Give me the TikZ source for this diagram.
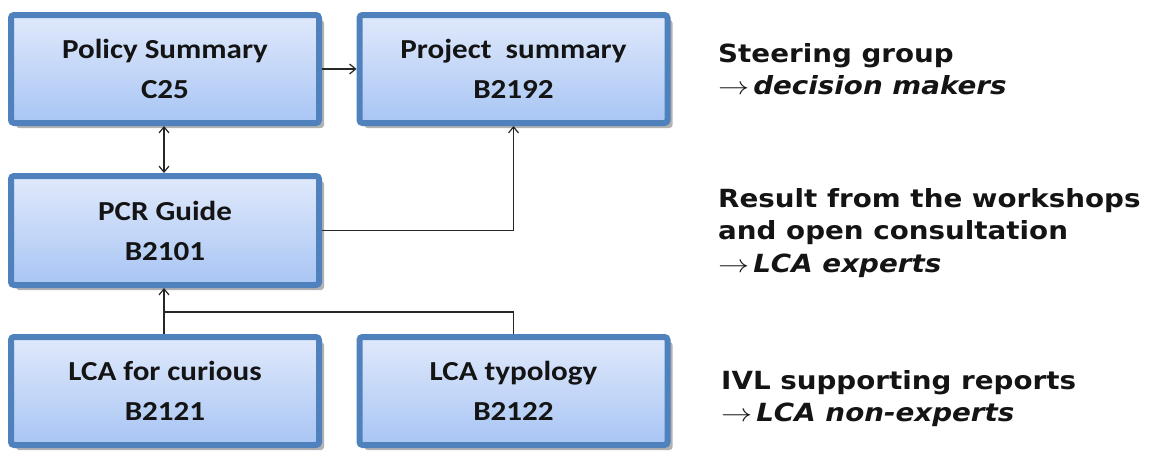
\documentclass[tikz,border=0pt]{standalone}
\usepackage{fontspec}
\usetikzlibrary{arrows.meta,shadows}
\newfontfamily\boxfont{Carlito}[FakeStretch=1.13]
\newfontfamily\notefont{DejaVu Sans}[FakeStretch=1.11]
\definecolor{boxborder}{RGB}{79,129,189}
\definecolor{boxtop}{RGB}{224,233,251}
\definecolor{boxbottom}{RGB}{168,197,244}
\definecolor{txt}{RGB}{20,20,20}
\newcommand{\toarrow}{\scalebox{1.25}[1]{$\rightarrow$}\hspace{4pt}}
\tikzset{
  barb/.tip={Straight Barb[length=6pt,width=10pt,line width=1.2pt]},
  docbox/.style={rectangle, rounded corners=3pt, draw=boxborder, line width=6pt,
    top color=boxtop, bottom color=boxbottom, minimum width=308pt, minimum height=108pt,
    inner sep=0pt, align=center, text=txt,
    font=\boxfont\bfseries\fontsize{27.5}{40}\selectfont,
    drop shadow={shadow xshift=5pt, shadow yshift=-5pt, opacity=0.3, fill=black}},
  conn/.style={line width=1.4pt, draw=black!85},
  tip/.style={-{barb}},
  note/.style={anchor=north west, inner sep=0pt, align=left, text=txt,
    font=\notefont\bfseries\fontsize{25}{32.5}\selectfont}
}
\begin{document}
\begin{tikzpicture}[x=1pt,y=-1pt]
\useasboundingbox (0,0) rectangle (1150,450);
\node[docbox] (policy) at (165,69) {Policy Summary\\C25};
\node[docbox] (project) at (513.5,69) {Project~ summary\\B2192};
\node[docbox, minimum height=109pt] (pcr) at (165,230.5) {PCR Guide\\B2101};
\node[docbox] (curious) at (165,391) {LCA for curious\\B2121};
\node[docbox] (typology) at (513.5,391) {LCA typology\\B2122};

\coordinate (j) at (164,312);
\draw[conn,tip] (policy.east) -- (project.west);
\draw[conn,{barb}-{barb}] (policy.south -| j) -- (pcr.north -| j);
\draw[conn,tip] (pcr.east) -| (project.south);
\draw[conn,tip] (curious.north -| j) -- (pcr.south -| j);
\draw[conn] (typology.north) |- (j);

\node[note] (steer) at (718,43) {Steering group\\\toarrow{\itshape decision makers}};
\node[note] (result) at (718,188) {Result from the workshops\\and open consultation\\\toarrow{\itshape LCA experts}};
\node[note] (ivl) at (721,370) {IVL supporting reports\\\toarrow{\itshape LCA non-experts}};
\end{tikzpicture}
\end{document}
